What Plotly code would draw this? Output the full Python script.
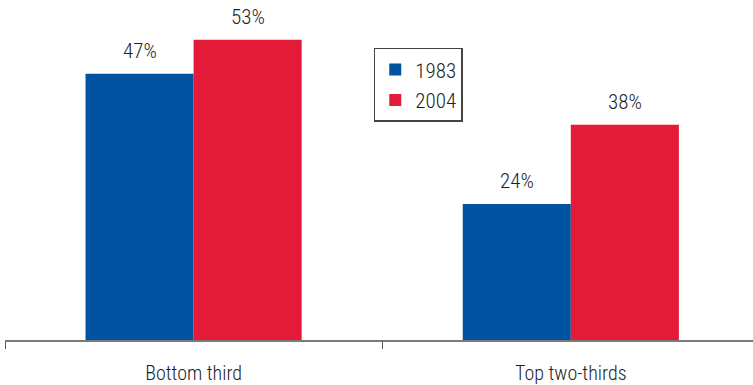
import plotly.graph_objects as go

categories = ["Bottom third", "Top two-thirds"]
years = ["1983", "2004"]
values_1983 = [47, 24]
values_2004 = [53, 38]
colors = {"1983": "#0053A1", "2004": "#E31A38"}

FONT = "Liberation Sans Narrow, Roboto Condensed, Arial Narrow, sans-serif"
BARGAP = 0.427

fig = go.Figure()
for yr, vals in zip(years, [values_1983, values_2004]):
    fig.add_trace(go.Bar(
        name=yr,
        x=categories,
        y=vals,
        marker=dict(color=colors[yr], line=dict(width=0)),
        legendgroup=yr,
        hoverinfo="skip",
    ))

# value labels centred above each bar
half = (1 - BARGAP) / 4
offsets = {"1983": -half, "2004": half}
for yr, vals in zip(years, [values_1983, values_2004]):
    for i, v in enumerate(vals):
        fig.add_annotation(
            x=i + offsets[yr], y=v, xref="x", yref="y",
            text=f"{v}%", showarrow=False,
            yanchor="bottom", yshift=9,
            font=dict(family=FONT, size=21, color="#1e1e1e", weight=300),
        )

fig.update_layout(
    width=753, height=385,
    margin=dict(l=5, r=0, t=0, b=45),
    paper_bgcolor="white", plot_bgcolor="white",
    barmode="group", bargap=BARGAP, bargroupgap=0,
    showlegend=True,
    legend=dict(
        x=0.493, y=0.859, xanchor="left", yanchor="top",
        bordercolor="#444444", borderwidth=1.5, bgcolor="white",
        font=dict(family=FONT, size=21, color="#1e1e1e", weight=300),
        tracegroupgap=0, itemwidth=30,
    ),
    xaxis=dict(
        type="category",
        range=[-0.5, 1.483],
        showline=True, linecolor="#7a7a7a", linewidth=2,
        ticks="outside", tickson="boundaries", ticklen=7, tickcolor="#555555", tickwidth=1,
        tickfont=dict(family=FONT, size=20, color="#1e1e1e", weight=300),
        ticklabelstandoff=14,
        showgrid=False, zeroline=False,
    ),
    yaxis=dict(
        range=[0, 60], visible=False, showgrid=False, zeroline=False,
    ),
)

fig.write_html("out.html")
